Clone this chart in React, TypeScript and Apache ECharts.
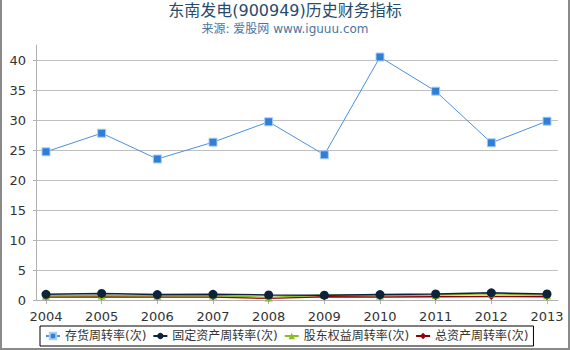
import React, { useEffect, useRef } from "react";
import * as echarts from "echarts";

const years = ["2004", "2005", "2006", "2007", "2008", "2009", "2010", "2011", "2012", "2013"];
const inventoryTurnover = [24.7, 27.8, 23.5, 26.3, 29.7, 24.2, 40.5, 34.8, 26.2, 29.8];
const fixedAssetTurnover = [0.95, 1.1, 0.9, 0.95, 0.85, 0.8, 0.9, 1.0, 1.2, 1.0];
const equityTurnover = [0.7, 0.75, 0.7, 0.75, 0.4, 0.85, 0.75, 0.85, 1.05, 0.8];
const totalAssetTurnover = [0.5, 0.55, 0.5, 0.5, 0.3, 0.55, 0.5, 0.55, 0.6, 0.55];
const seriesNames = ["存货周转率(次)", "固定资产周转率(次)", "股东权益周转率(次)", "总资产周转率(次)"];

const FONT = "'DejaVu Sans', 'Noto Sans CJK SC', sans-serif";

export default function App() {
  const ref = useRef<HTMLDivElement>(null);
  useEffect(() => {
    if (!ref.current) return;
    const chart = echarts.init(ref.current, null, { renderer: "svg" });
    const axisGrey = "#b0b0b0";
    chart.setOption({
      animation: false,
      backgroundColor: "#ffffff",
      textStyle: { fontFamily: FONT },
      title: {
        text: "东南发电(900949)历史财务指标",
        subtext: "来源: 爱股网 www.iguuu.com",
        left: "center",
        top: 0,
        padding: [2, 0, 0, 0],
        itemGap: 5,
        textStyle: { fontFamily: FONT, fontSize: 16, fontWeight: "normal", color: "#274b6d" },
        subtextStyle: { fontFamily: FONT, fontSize: 12, color: "#4d759e" },
      },
      legend: {
        left: 40,
        top: 326,
        orient: "horizontal",
        padding: [4, 5, 4, 5],
        itemGap: 6,
        itemWidth: 14,
        itemHeight: 8,
        borderColor: "#000000",
        borderWidth: 1,
        textStyle: { fontFamily: FONT, fontSize: 12, color: "#333333" },
        data: seriesNames,
      },
      grid: [
        { left: 36, right: 12, top: 45, bottom: 50, containLabel: false },
        { left: 46, right: 23, top: 45, bottom: 50, containLabel: false },
      ],
      xAxis: [
        {
          type: "value",
          gridIndex: 0,
          min: 0,
          max: 1,
          offset: 4,
          axisLine: { show: true, lineStyle: { color: axisGrey, width: 1 } },
          axisTick: { show: false },
          axisLabel: { show: false },
          splitLine: { show: false },
        },
        {
          type: "category",
          gridIndex: 1,
          data: years,
          boundaryGap: false,
          offset: 4,
          axisLine: { show: false },
          axisTick: { show: true, length: 4, lineStyle: { color: axisGrey } },
          axisLabel: { margin: 6, fontSize: 13, color: "#333333", fontFamily: FONT },
          splitLine: { show: false },
        },
      ],
      yAxis: [
        {
          type: "value",
          gridIndex: 0,
          min: 0,
          max: 42.5,
          interval: 5,
          offset: 4,
          axisLine: { show: true, lineStyle: { color: axisGrey, width: 1 } },
          axisTick: { show: true, length: 3, lineStyle: { color: axisGrey } },
          axisLabel: { margin: 6, fontSize: 13, color: "#333333", fontFamily: FONT, showMaxLabel: false },
          splitLine: { show: true, showMaxLine: false, lineStyle: { color: "#c0c0c0", width: 1 } },
        },
        {
          type: "value",
          gridIndex: 1,
          min: 0,
          max: 42.5,
          show: false,
          splitLine: { show: false },
        },
      ],
      series: [
        {
          name: seriesNames[0],
          type: "line",
          xAxisIndex: 1,
          yAxisIndex: 1,
          data: inventoryTurnover,
          symbol: "rect",
          symbolSize: 8,
          color: "#2f7ed8",
          lineStyle: { color: "#4a90e0", width: 1 },
          itemStyle: { color: "#2f7ed8", borderColor: "#a9cdf2", borderWidth: 1 },
          z: 3,
        },
        {
          name: seriesNames[1],
          type: "line",
          xAxisIndex: 1,
          yAxisIndex: 1,
          data: fixedAssetTurnover,
          symbol: "circle",
          symbolSize: 9,
          color: "#0d233a",
          lineStyle: { color: "#0d233a", width: 1.5 },
          itemStyle: { color: "#0d233a" },
          z: 5,
        },
        {
          name: seriesNames[2],
          type: "line",
          xAxisIndex: 1,
          yAxisIndex: 1,
          data: equityTurnover,
          symbol: "triangle",
          symbolSize: 8,
          color: "#8bbc21",
          lineStyle: { color: "#8bbc21", width: 1.5 },
          itemStyle: { color: "#8bbc21" },
          z: 4,
        },
        {
          name: seriesNames[3],
          type: "line",
          xAxisIndex: 1,
          yAxisIndex: 1,
          data: totalAssetTurnover,
          symbol: "diamond",
          symbolSize: 7,
          color: "#910000",
          lineStyle: { color: "#910000", width: 1.5 },
          itemStyle: { color: "#910000" },
          z: 3,
        },
      ],
      graphic: [
        { type: "rect", left: 0, top: 0, shape: { width: 2, height: 350 }, style: { fill: "#8a8a8a" }, silent: true },
        { type: "rect", right: 0, top: 0, shape: { width: 2, height: 350 }, style: { fill: "#8a8a8a" }, silent: true },
        { type: "rect", left: 0, bottom: 0, shape: { width: 570, height: 2 }, style: { fill: "#8a8a8a" }, silent: true },
      ],
    });
    return () => chart.dispose();
  }, []);
  return (
    <div
      ref={ref}
      style={{ position: "fixed", left: 0, top: 0, width: 570, height: 350 }}
    />
  );
}
